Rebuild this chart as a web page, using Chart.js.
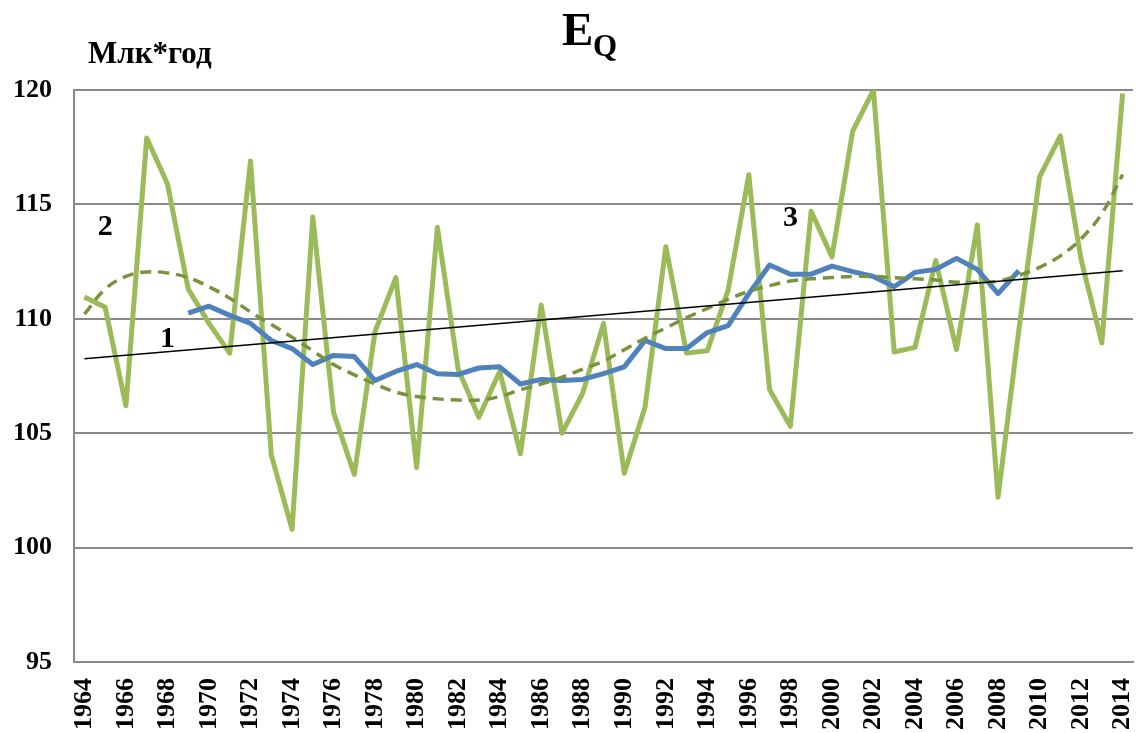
<!DOCTYPE html>
<html>
<head>
<meta charset="utf-8">
<script src="https://cdn.jsdelivr.net/npm/chart.js@4/dist/chart.umd.min.js"></script>
<style>
  html, body { margin: 0; padding: 0; background: #fff; }
  #wrap { width: 1138px; height: 733px; }
</style>
</head>
<body>
<div id="wrap"><canvas id="eqChart" width="1138" height="733"></canvas></div>
<script>
const years = [];
for (let y = 1964; y <= 2014; y++) years.push(String(y));

// annual values, Млк*год
const eqValues = [
  110.95, 110.5, 106.2, 117.9, 115.9, 111.3, 109.8, 108.5, 116.9, 104.05,
  100.8, 114.45, 105.9, 103.2, 109.45, 111.8, 103.5, 114.0, 107.8, 105.7,
  107.7, 104.1, 110.6, 105.0, 106.75, 109.8, 103.25, 106.15, 113.15, 108.5,
  108.6, 111.25, 116.3, 106.9, 105.3, 114.7, 112.7, 118.2, 120.0, 108.55,
  108.75, 112.55, 108.65, 114.1, 102.2, 109.5, 116.2, 118.0, 112.6, 108.95,
  119.85
];

// 11-year moving average (curve 3)
const movingAvg = [
  null, null, null, null, null, 110.25, 110.55, 110.15, 109.8, 109.05,
  108.7, 108.0, 108.4, 108.35, 107.3, 107.7, 108.0, 107.6, 107.57, 107.85,
  107.9, 107.15, 107.35, 107.3, 107.35, 107.6, 107.9, 109.05, 108.7, 108.7,
  109.4, 109.7, 111.1, 112.35, 111.95, 111.95, 112.3, 112.06, 111.85, 111.4,
  112.03, 112.16, 112.64, 112.16, 111.1, 112.1, null, null, null, null,
  null
];

// polynomial trend (curve 2, dashed)
const polyTrend = [
  110.2, 111.3, 111.85, 112.05, 112.0, 111.8, 111.4, 110.9, 110.3, 109.75,
  109.2, 108.6, 108.0, 107.55, 107.15, 106.8, 106.6, 106.5, 106.45, 106.45,
  106.6, 106.9, 107.15, 107.45, 107.8, 108.15, 108.65, 109.15, 109.6, 110.05,
  110.45, 110.85, 111.2, 111.45, 111.65, 111.75, 111.8, 111.85, 111.85, 111.8,
  111.75, 111.7, 111.6, 111.6, 111.65, 111.9, 112.25, 112.75, 113.5, 114.6,
  116.3
];

// linear trend (curve 1): end points only
const linearTrend = years.map(() => null);
linearTrend[0] = 108.25;
linearTrend[linearTrend.length - 1] = 112.1;

const curveLabels = [
  { text: '1', year: '1968', value: 109.1 },
  { text: '2', year: '1965', value: 114.0 },
  { text: '3', year: '1998', value: 114.4 }
];

const serif = '"Liberation Serif", "Times New Roman", serif';

const textPlugin = {
  id: 'textPlugin',
  afterDraw(chart) {
    const ctx = chart.ctx;
    const xs = chart.scales.x, ys = chart.scales.y;
    ctx.save();
    ctx.fillStyle = '#000';
    ctx.textBaseline = 'alphabetic';
    // units
    ctx.font = 'bold 31px ' + serif;
    ctx.textAlign = 'left';
    ctx.fillText('Млк*год', 88, 63);
    // title E with subscript Q
    ctx.font = 'bold 47px ' + serif;
    ctx.fillText('E', 562, 45);
    ctx.font = 'bold 31px ' + serif;
    ctx.fillText('Q', 593, 56);
    // curve numbers
    ctx.font = 'bold 30px ' + serif;
    ctx.textAlign = 'center';
    ctx.textBaseline = 'middle';
    curveLabels.forEach(l => {
      ctx.fillText(l.text, xs.getPixelForValue(years.indexOf(l.year)), ys.getPixelForValue(l.value));
    });
    ctx.restore();
  }
};

new Chart(document.getElementById('eqChart'), {
  type: 'line',
  data: {
    labels: years,
    datasets: [
      {
        label: '1',
        data: linearTrend,
        borderColor: '#000',
        borderWidth: 1.5,
        pointRadius: 0,
        spanGaps: true,
        order: 1
      },
      {
        label: '2',
        data: polyTrend,
        borderColor: '#77933C',
        borderWidth: 3.5,
        borderDash: [11, 7],
        pointRadius: 0,
        tension: 0.4,
        order: 2
      },
      {
        label: '3',
        data: movingAvg,
        borderColor: '#4F81BD',
        borderWidth: 5,
        pointRadius: 0,
        borderJoinStyle: 'round',
        order: 3
      },
      {
        label: 'EQ',
        data: eqValues,
        borderColor: '#9BBB59',
        borderWidth: 5,
        pointRadius: 0,
        borderJoinStyle: 'round',
        order: 4
      }
    ]
  },
  options: {
    responsive: false,
    animation: false,
    layout: { padding: { top: 90, right: 5, left: 0, bottom: 0 } },
    plugins: {
      legend: { display: false },
      title: { display: false },
      tooltip: { enabled: false }
    },
    scales: {
      x: {
        offset: true,
        grid: { display: false, drawTicks: false },
        border: { display: true, color: '#898989', width: 2 },
        ticks: {
          autoSkip: false,
          minRotation: 90,
          maxRotation: 90,
          padding: 16,
          color: '#000',
          font: { family: serif, size: 26, weight: 'bold' },
          callback: (v, i) => (i % 2 === 0 ? years[i] : '')
        },
        afterFit: s => { s.height = 71; s.paddingLeft = 0; s.paddingRight = 0; }
      },
      y: {
        min: 95,
        max: 120,
        ticks: {
          stepSize: 5,
          padding: 22,
          color: '#000',
          font: { family: serif, size: 26, weight: 'bold' }
        },
        grid: { color: '#898989', lineWidth: 2, drawTicks: false },
        border: { display: true, color: '#898989', width: 2 },
        afterFit: s => { s.width = 74; s.paddingTop = 0; s.paddingBottom = 0; }
      }
    }
  },
  plugins: [textPlugin]
});
</script>
</body>
</html>
